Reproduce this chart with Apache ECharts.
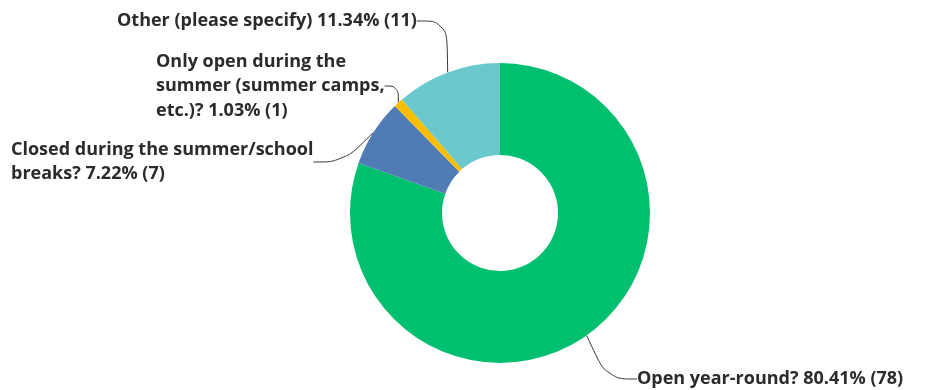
<!DOCTYPE html>
<html>
<head>
<meta charset="utf-8">
<style>
html,body{margin:0;padding:0;background:#fff;}
#chart{width:933px;height:390px;}
</style>
<script src="https://cdn.jsdelivr.net/npm/echarts@6/dist/echarts.min.js"></script>
</head>
<body>
<div id="chart"></div>
<script>
const categories = [
  "Open year-round?",
  "Closed during the summer/school breaks?",
  "Only open during the summer (summer camps, etc.)?",
  "Other (please specify)"
];
const labelTexts = [
  "Open year-round?",
  "Closed during the summer/school\nbreaks?",
  "Only open during the\nsummer (summer camps,\netc.)?",
  "Other (please specify)"
];
const counts = [78, 7, 1, 11];
const colors = ["#00BF6F", "#507CB6", "#F9BE00", "#6BC8CD"];
const labelPos = [
  {x: 637, y: 379, verticalAlign: 'middle'},
  {x: 11, y: 162, verticalAlign: 'middle'},
  {x: 156, y: 86, verticalAlign: 'middle'},
  {x: 117, y: 21, verticalAlign: 'middle'}
];

const chart = echarts.init(document.getElementById('chart'));
chart.setOption({
  animation: false,
  series: [{
    type: 'pie',
    center: [500, 213],
    radius: [58, 150],
    startAngle: 90,
    clockwise: true,
    percentPrecision: 2,
    data: categories.map((c, i) => ({
      name: c,
      value: counts[i],
      itemStyle: {color: colors[i]}
    })),
    label: {
      show: true,
      formatter: p => labelTexts[p.dataIndex] + ' ' + p.percent.toFixed(2) + '% (' + p.value + ')',
      fontFamily: 'Open Sans',
      fontWeight: 'bold',
      fontSize: 18,
      lineHeight: 24.5,
      color: '#2b2b2b',
      align: 'left',
      overflow: 'none'
    },
    labelLine: {
      show: true,
      smooth: 0.4,
      lineStyle: {color: '#333', width: 1}
    },
    labelLayout: p => Object.assign({align: 'left'}, labelPos[p.dataIndex])
  }]
});
</script>
</body>
</html>
